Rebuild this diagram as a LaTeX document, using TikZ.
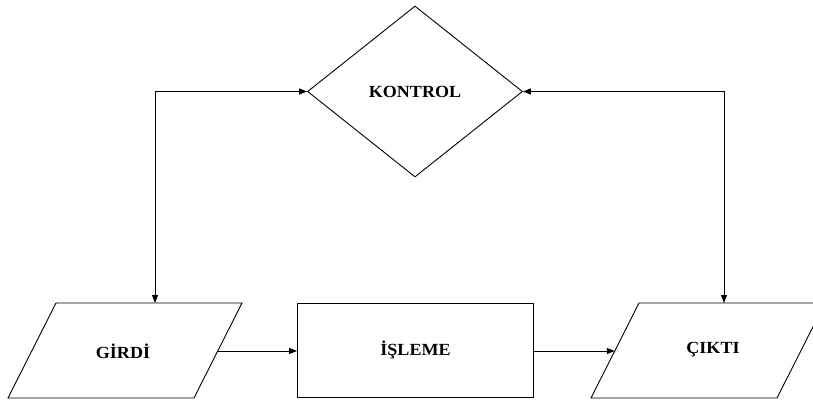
\documentclass[tikz,border=0pt]{standalone}
\usepackage{fontspec}
\setmainfont{Liberation Serif}[FakeStretch=1.06]
\usetikzlibrary{shapes.geometric,arrows.meta,calc}
\begin{document}
\begin{tikzpicture}[x=1pt,y=-1pt,
  label/.style={inner sep=0pt,font=\fontsize{17}{19}\selectfont\bfseries},
  outline/.style={draw,line width=0.9pt},
  proc/.style={label,outline,rectangle,minimum width=236,minimum height=94},
  decision/.style={label,outline,diamond,minimum width=215,minimum height=171},
  flow/.style={line width=0.9pt,-{Triangle[length=8pt,width=6pt]}},
  twoway/.style={line width=0.9pt,{Triangle[length=8pt,width=6pt]}-{Triangle[length=8pt,width=6pt]}}]
  \useasboundingbox (0,0) rectangle (813,401);
  \fill[white] (0,0) rectangle (813,401);

  % input / output parallelograms (slant: 48 over a height of 95)
  \coordinate (g1) at (8,398);   \coordinate (g2) at (194,398);
  \coordinate (g3) at (242,303); \coordinate (g4) at (56,303);
  \draw[outline] (g1) -- (g2) -- (g3) -- (g4) -- cycle;
  \node[label] (girdi) at (123,351) {GİRDİ};

  \coordinate (c1) at (591,398); \coordinate (c2) at (777,398);
  \coordinate (c3) at (825,303); \coordinate (c4) at (639,303);
  \draw[outline] (c1) -- (c2) -- (c3) -- (c4) -- cycle;
  \node[label] (cikti) at (713,350) {ÇIKTI};

  % process and decision blocks
  \node[proc] (isleme) at (415.5,350) {İŞLEME};
  \node[decision] (kontrol) at (415,91.5) {KONTROL};

  % attachment points on the slanted sides and top edges
  \coordinate (gout) at ($(g2)!0.495!(g3)$);
  \coordinate (cin) at ($(c1)!0.495!(c4)$);
  \coordinate (lc) at (155,303);
  \coordinate (rc) at (724,303);

  % main flow
  \draw[flow] (gout) -- (gout -| isleme.west);
  \draw[flow] (gout -| isleme.east) -- (cin);

  % control loop
  \draw[twoway] (lc) |- (kontrol.west);
  \draw[twoway] (rc) |- (kontrol.east);
\end{tikzpicture}
\end{document}
